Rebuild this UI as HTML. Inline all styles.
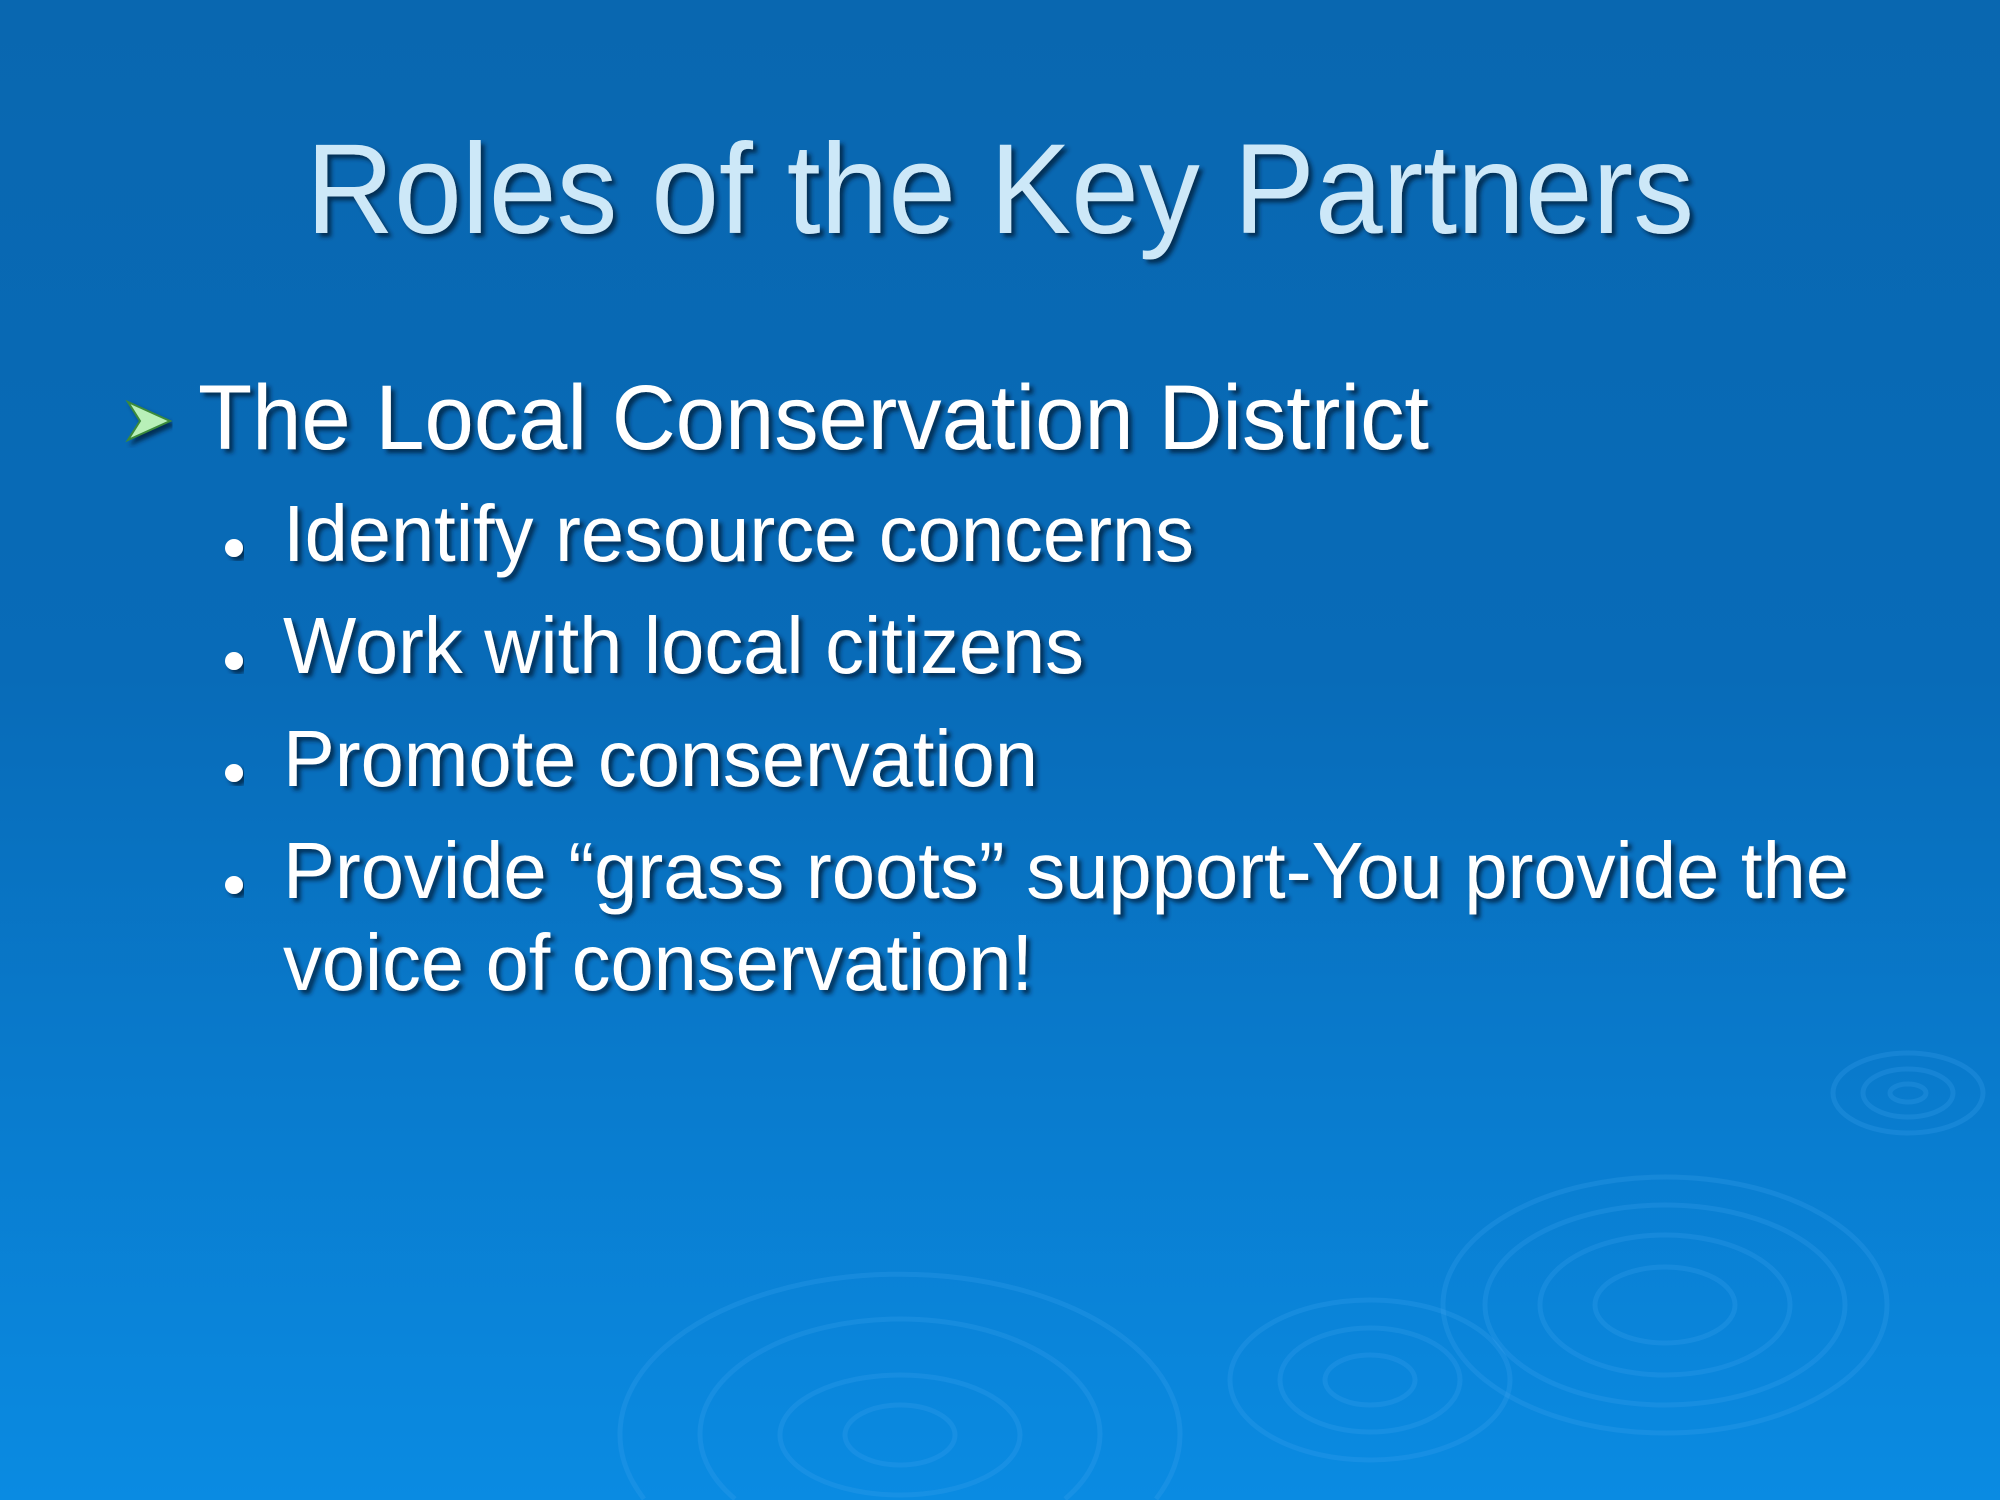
<!DOCTYPE html>
<html>
<head>
<meta charset="utf-8">
<style>
html,body{margin:0;padding:0;width:2000px;height:1500px;overflow:hidden;}
svg{display:block;overflow:hidden;}
text{font-family:"Liberation Sans",Arial,sans-serif;}
.sh{filter:url(#shadow);}
</style>
</head>
<body>
<svg width="2000" height="1500" viewBox="0 0 2000 1500">
  <defs>
    <linearGradient id="bg" x1="0" y1="0" x2="0" y2="1">
      <stop offset="0" stop-color="#0967b0"/>
      <stop offset="0.45" stop-color="#086bb8"/>
      <stop offset="1" stop-color="#0a8be2"/>
    </linearGradient>
    <filter id="shadow" x="-5%" y="-20%" width="110%" height="140%">
      <feDropShadow dx="4" dy="4" stdDeviation="2" flood-color="#032040" flood-opacity="0.8"/>
    </filter>
  </defs>
  <rect x="0" y="0" width="2000" height="1500" fill="url(#bg)"/>
  <g fill="none" stroke="#3fa4ee" stroke-opacity="0.25" stroke-width="5">
    <ellipse cx="1665" cy="1305" rx="222" ry="128"/>
    <ellipse cx="1665" cy="1305" rx="180" ry="100"/>
    <ellipse cx="1665" cy="1305" rx="125" ry="70"/>
    <ellipse cx="1665" cy="1305" rx="70" ry="38"/>
    <ellipse cx="1370" cy="1380" rx="140" ry="80"/>
    <ellipse cx="1370" cy="1380" rx="90" ry="52"/>
    <ellipse cx="1370" cy="1380" rx="45" ry="25"/>
    <path d="M644,1499 A280 160 0 1 1 1156,1499"/>
    <path d="M735,1499 A200 115 0 1 1 1065,1499"/>
    <ellipse cx="900" cy="1435" rx="120" ry="60"/>
    <ellipse cx="900" cy="1435" rx="55" ry="30"/>
    <ellipse cx="1908" cy="1093" rx="75" ry="40"/>
    <ellipse cx="1908" cy="1093" rx="45" ry="24"/>
    <ellipse cx="1908" cy="1093" rx="18" ry="9"/>
  </g>
  <text class="sh" x="306" y="233" font-size="128" fill="#cde8f8" textLength="1388" lengthAdjust="spacingAndGlyphs">Roles of the Key Partners</text>
  <polygon class="sh" points="128,402 170,421 128,440 140,421" fill="#b8f0b8" stroke="#3a8a3a" stroke-width="2"/>
  <text class="sh" x="198" y="449" font-size="92" fill="#ffffff" textLength="1231" lengthAdjust="spacingAndGlyphs">The Local Conservation District</text>
  <g fill="#ffffff">
    <circle class="sh" cx="234" cy="548" r="9"/>
    <text class="sh" x="283" y="561" font-size="80" textLength="911" lengthAdjust="spacingAndGlyphs">Identify resource concerns</text>
    <circle class="sh" cx="234" cy="661" r="9"/>
    <text class="sh" x="283" y="673" font-size="80" textLength="801" lengthAdjust="spacingAndGlyphs">Work with local citizens</text>
    <circle class="sh" cx="234" cy="773" r="9"/>
    <text class="sh" x="283" y="786" font-size="80" textLength="755" lengthAdjust="spacingAndGlyphs">Promote conservation</text>
    <circle class="sh" cx="234" cy="885" r="9"/>
    <text class="sh" x="283" y="898" font-size="80" textLength="1566" lengthAdjust="spacingAndGlyphs">Provide “grass roots” support-You provide the</text>
    <text class="sh" x="283" y="990" font-size="80" textLength="750" lengthAdjust="spacingAndGlyphs">voice of conservation!</text>
  </g>
</svg>
</body>
</html>
